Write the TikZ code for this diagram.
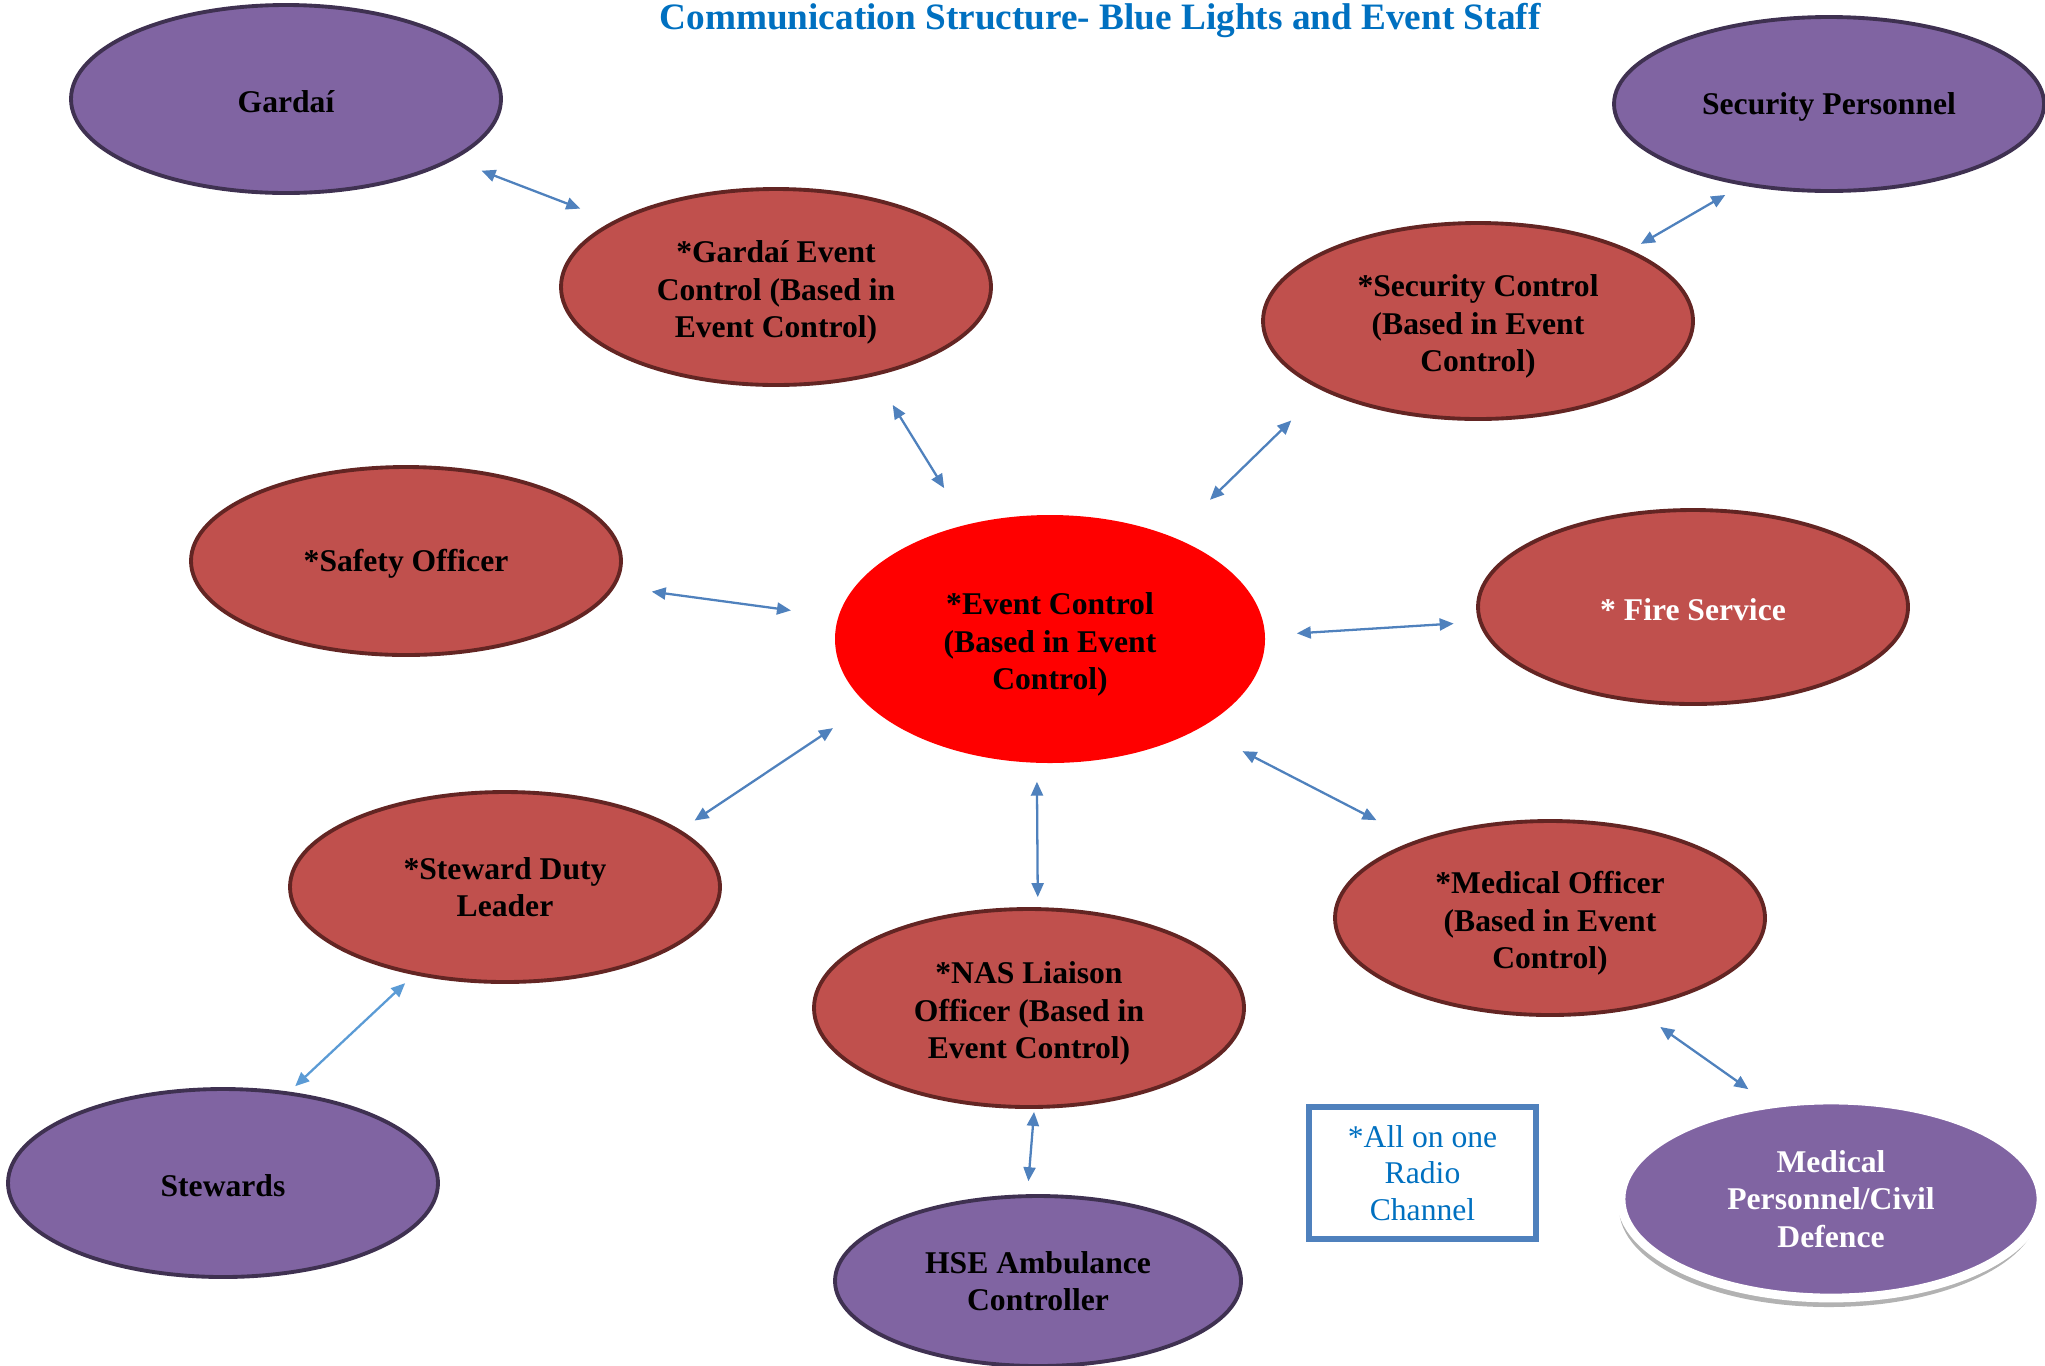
\documentclass[tikz,border=0pt]{standalone}
\usepackage{fontspec}
\setmainfont{Liberation Serif}
\usepackage{xcolor}
\usepackage{tikz}
\usetikzlibrary{arrows.meta,shapes.geometric,shadows}
\definecolor{agencypurple}{RGB}{128,100,162}
\definecolor{agencyedge}{RGB}{63,49,81}
\definecolor{controlred}{RGB}{192,80,77}
\definecolor{controledge}{RGB}{99,37,35}
\definecolor{linkblue}{RGB}{79,129,189}
\definecolor{lightlink}{RGB}{91,155,213}
\definecolor{titleblue}{RGB}{0,112,192}
\newcommand\bubblefont{\fontsize{9}{10.6}\selectfont\bfseries}
\newcommand\firstrow{\rule{0pt}{3.3mm}}

\begin{document}
\begin{tikzpicture}[
    bubble/.style={ellipse, minimum width=4.3cm, minimum height=1.9cm, inner sep=0pt, align=center, line width=1.1pt, font=\bubblefont,
        execute at begin node={\rule{0pt}{2.8mm}}},
    agency/.style={bubble, fill=agencypurple, draw=agencyedge},
    control/.style={bubble, fill=controlred, draw=controledge},
    link/.style={draw=linkblue, line width=0.65pt, >={Triangle[length=1.4mm,width=1.2mm]}, <->}
]
    \useasboundingbox (0,0) rectangle (20.45,-13.65);
    \node[anchor=base, text=titleblue, font=\fontsize{10.6}{12}\selectfont\bfseries] (title) at (11.0,-0.29) {Communication Structure- Blue Lights and Event Staff};
    % outside agencies
    \node[agency, minimum height=1.88cm] (gardai) at (2.86,-0.99) {Gardaí};
    \node[agency, minimum height=1.74cm] (secpers) at (18.29,-1.04) {Security Personnel};
    \node[agency, minimum height=1.88cm] (stewards) at (2.23,-11.83) {Stewards};
    \node[agency, minimum width=4.06cm, minimum height=1.70cm] (hse) at (10.38,-12.81) {HSE Ambulance\\Controller};
    \node[bubble, fill=agencypurple, draw=white, line width=2.5pt, text=white, minimum width=4.2cm, minimum height=1.98cm,
        drop shadow={shadow xshift=-0.02cm, shadow yshift=-0.09cm, fill=gray!60, opacity=1}] (medpers) at (18.31,-11.99) {Medical\\Personnel/Civil\\Defence};
    % control room
    \node[control, minimum height=1.96cm] (gardaictrl) at (7.76,-2.87) {\firstrow*Gardaí Event\\Control (Based in\\Event Control)};
    \node[control, minimum height=1.96cm] (secctrl) at (14.78,-3.21) {\firstrow*Security Control\\(Based in Event\\Control)};
    \node[control, minimum height=1.88cm] (safety) at (4.06,-5.61) {*Safety Officer};
    \node[bubble, fill=red, minimum height=2.48cm] (eventctrl) at (10.50,-6.39) {\firstrow*Event Control\\(Based in Event\\Control)};
    \node[control, minimum height=1.94cm, text=white] (fire) at (16.93,-6.07) {* Fire Service};
    \node[control, minimum height=1.90cm] (stewardlead) at (5.05,-8.87) {*Steward Duty\\Leader};
    \node[control, minimum height=1.98cm] (nas) at (10.29,-10.08) {\firstrow*NAS Liaison\\Officer (Based in\\Event Control)};
    \node[control, minimum height=1.94cm] (medoff) at (15.50,-9.18) {\firstrow*Medical Officer\\(Based in Event\\Control)};
    \node[draw=linkblue, line width=1.5pt, minimum width=2.27cm, minimum height=1.32cm, align=center, text=titleblue,
        font=\fontsize{9}{10.4}\selectfont] (radiobox) at (14.225,-11.73) {*All on one\\Radio\\Channel};
    % radio links
    \draw[link, shorten <=3mm, shorten >=3.5mm] (gardai.-20.5) -- (gardaictrl.158.9);
    \draw[link, shorten <=3.4mm, shorten >=4.1mm] (gardaictrl.-42.6) -- (eventctrl.126.4);
    \draw[link, shorten <=1.9mm, shorten >=1.2mm] (secpers.223) -- (secctrl.25.6);
    \draw[link, shorten <=4.3mm, shorten >=5.1mm] (secctrl.204.2) -- (eventctrl.40.3);
    \draw[link, shorten <=3.7mm, shorten >=4.6mm] (safety.-7) -- (eventctrl.174.8);
    \draw[link, shorten <=3mm, shorten >=2.5mm] (eventctrl.1) -- (fire.184.8);
    \draw[link, shorten <=4mm, shorten >=1.7mm] (eventctrl.200.4) -- (stewardlead.18.7);
    \draw[link, shorten <=1.7mm, shorten >=1mm] (eventctrl.264) -- (nas.85.4);
    \draw[link, shorten <=4.7mm, shorten >=4.4mm] (eventctrl.-31.5) -- (medoff.150.9);
    \draw[link, draw=lightlink, shorten <=1.2mm, shorten >=0.8mm] (stewardlead.224.2) -- (stewards.54.4);
    \draw[link, shorten <=0.3mm, shorten >=1.3mm] (nas.-87) -- (hse.97.5);
    \draw[link, shorten <=3.1mm, shorten >=2mm] (medoff.-47.3) -- (medpers.124.1);
\end{tikzpicture}
\end{document}
